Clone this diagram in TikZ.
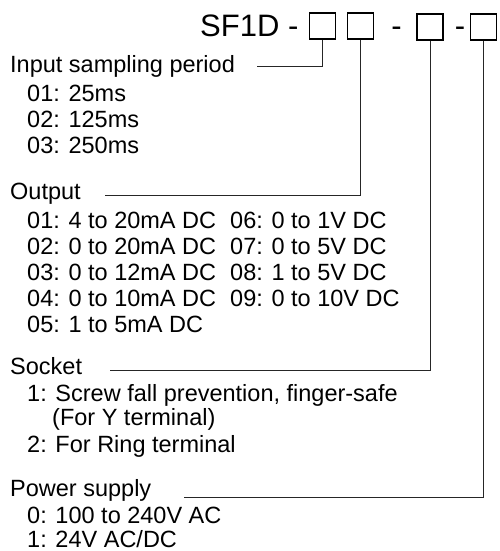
\documentclass[tikz,border=0pt]{standalone}
\usepackage{fontspec}
\setmainfont{Liberation Sans}
\begin{document}
\begin{tikzpicture}[x=1pt,y=-1pt,
  txt/.style={anchor=base west,inner sep=0pt,font=\fontsize{23.5}{26}\selectfont},
  ttl/.style={inner sep=0pt,font=\fontsize{31}{34}\selectfont},
  codebox/.style={draw,line width=1.6pt,minimum width=26pt,minimum height=26pt,inner sep=0pt},
  leader/.style={line width=0.9pt,draw=black!85}]
\useasboundingbox (0,0) rectangle (499,551);
% title
\node[ttl,anchor=base west] (title) at (200,37) {SF1D -};
\node[codebox] (b1) at (322.5,26.3) {};
\node[codebox] (b2) at (360.5,26.3) {};
\node[ttl,anchor=base] (d1) at (396.5,37) {-};
\node[codebox] (b3) at (430,27) {};
\node[ttl,anchor=base] (d2) at (460,37) {-};
\node[codebox] (b4) at (483.5,27) {};
% input sampling period
\node[txt] (hin) at (10,72) {Input sampling period};
\node[txt] (in1) at (27,101) {01: 25ms};
\node[txt] (in2) at (27,127) {02: 125ms};
\node[txt] (in3) at (27,153) {03: 250ms};
% output
\node[txt] (hout) at (10,199) {Output};
\node[txt] (o1) at (27,228) {01: 4 to 20mA DC};
\node[txt] (o2) at (27,254) {02: 0 to 20mA DC};
\node[txt] (o3) at (27,280) {03: 0 to 12mA DC};
\node[txt] (o4) at (27,306) {04: 0 to 10mA DC};
\node[txt] (o5) at (27,332) {05: 1 to 5mA DC};
\node[txt] (o6) at (230,228) {06: 0 to 1V DC};
\node[txt] (o7) at (230,254) {07: 0 to 5V DC};
\node[txt] (o8) at (230,280) {08: 1 to 5V DC};
\node[txt] (o9) at (230,306) {09: 0 to 10V DC};
% socket
\node[txt] (hsock) at (10,374) {Socket};
\node[txt] (s1) at (27,401) {1: Screw fall prevention, finger-safe};
\node[txt] (s1b) at (52,425) {(For Y terminal)};
\node[txt] (s2) at (27,452) {2: For Ring terminal};
% power supply
\node[txt] (hpow) at (10,496) {Power supply};
\node[txt] (p0) at (27,523) {0: 100 to 240V AC};
\node[txt] (p1) at (27,547) {1: 24V AC/DC};
% leader lines
\coordinate (lin) at (257,66);
\coordinate (lout) at (105,195);
\coordinate (lsock) at (110,370);
\coordinate (lpow) at (184,497);
\draw[leader] (lin) -| (b1.south);
\draw[leader] (lout) -| (b2.south);
\draw[leader] (lsock) -| (b3.south);
\draw[leader] (lpow) -| (b4.south);
\end{tikzpicture}
\end{document}
